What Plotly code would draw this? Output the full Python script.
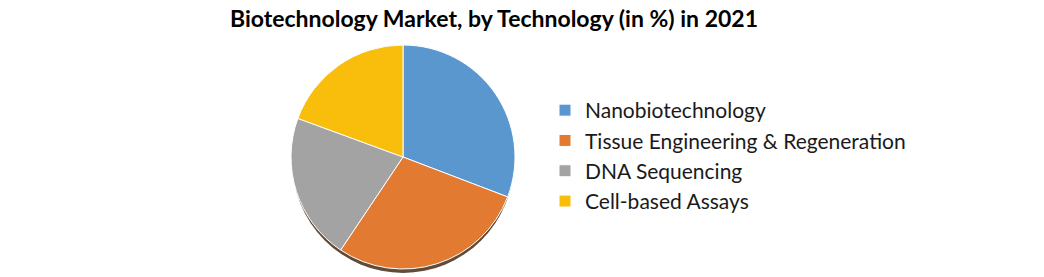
import plotly.graph_objects as go

categories = ["Nanobiotechnology", "Tissue Engineering & Regeneration", "DNA Sequencing", "Cell-based Assays"]
shares = [30.8, 28.6, 21.2, 19.4]
colors = ["#5A97CF", "#E27A31", "#A3A3A3", "#F9BD0B"]
title_text = "Biotechnology Market, by Technology (in %) in 2021"

W, H = 1044, 277
cx, cy, r = 403, 157, 112  # pixel layout of the pie

fig = go.Figure()
fig.add_trace(go.Pie(
    labels=categories,
    values=shares,
    sort=False,
    direction="clockwise",
    rotation=0,
    textinfo="none",
    hoverinfo="label+percent",
    marker=dict(colors=colors, line=dict(color="white", width=1)),
    domain=dict(x=[(cx - r) / W, (cx + r) / W], y=[(H - cy - r) / H, (H - cy + r) / H]),
))

# soft drop shadow below the pie
fig.add_shape(type="circle", xref="paper", yref="paper", layer="below",
              x0=(cx - r + 1) / W, x1=(cx + r - 1) / W,
              y0=(H - cy - r - 4) / H, y1=(H - cy + r - 4) / H,
              fillcolor="rgba(70,45,20,0.85)", line=dict(width=0))

fig.update_layout(
    width=W, height=H,
    margin=dict(l=0, r=0, t=0, b=0),
    paper_bgcolor="white", plot_bgcolor="white",
    title=dict(text="<b>" + title_text + "</b>", x=494 / W, xanchor="center",
               y=1 - 19 / H, yanchor="middle",
               font=dict(family="Lato", size=23, color="#000000")),
    legend=dict(x=545 / W, xanchor="left", y=1 - 90 / H, yanchor="top",
                font=dict(family="Lato", size=21, color="#1a1a1a"),
                bgcolor="rgba(0,0,0,0)", itemwidth=30, tracegroupgap=0),
    showlegend=True,
)

fig.write_html("out.html")
